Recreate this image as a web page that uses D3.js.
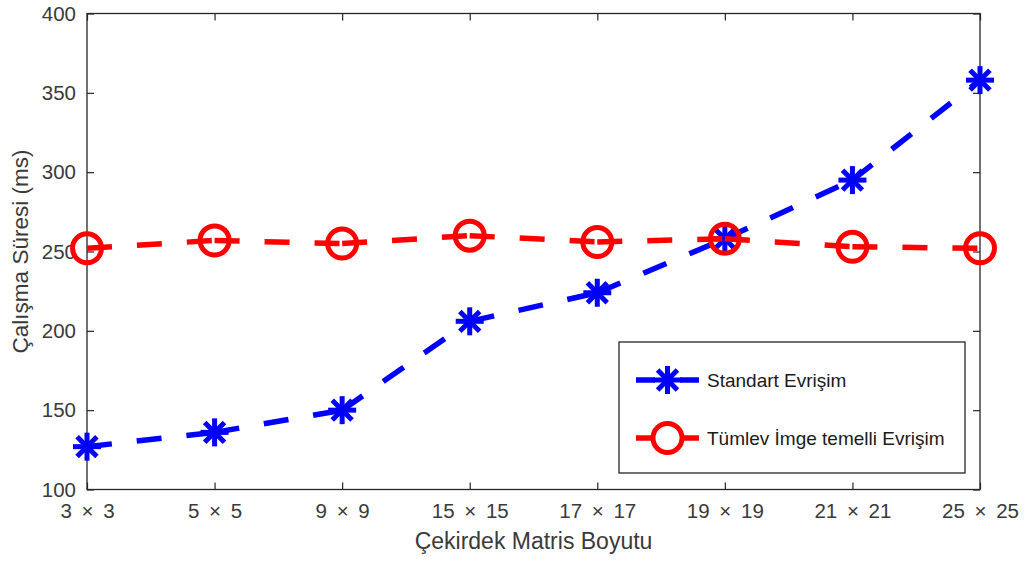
<!DOCTYPE html>
<html>
<head>
<meta charset="utf-8">
<script src="https://cdn.jsdelivr.net/npm/d3@7"></script>
<style>
  html, body { margin: 0; padding: 0; background: #fff; }
  svg { display: block; font-family: "Liberation Sans", Arial, Helvetica, sans-serif; }
</style>
</head>
<body>
<svg id="chart" width="1027" height="561"></svg>
<script>
// ---- data ----
const categories = ["3 × 3", "5 × 5", "9 × 9", "15 × 15", "17 × 17", "19 × 19", "21 × 21", "25 × 25"];
const standartValues = [127, 136, 150, 206, 224, 258, 295, 358];
const tumlevValues = [252, 257, 255, 260, 256, 258, 253, 252];
const yTicks = [100, 150, 200, 250, 300, 350, 400];
const seriesNames = ["Standart Evrişim", "Tümlev İmge temelli Evrişim"];
const xLabel = "Çekirdek Matris Boyutu";
const yLabel = "Çalışma Süresi (ms)";

// ---- layout ----
const W = 1027, H = 561;
const L = 87, R = 980, T = 13.5, B = 489.5;
const axisColor = "#262626";
const textColor = "#3a3a3a";

const svg = d3.select("#chart");

const x = d3.scalePoint().domain(categories).range([L, R]).padding(0);
const y = d3.scaleLinear().domain([100, 400]).range([B, T]);

// background
svg.append("rect").attr("x", 0).attr("y", 0).attr("width", W).attr("height", H).attr("fill", "#fff");

// axes
const tickLen = 7;
const gx = svg.append("g").attr("transform", `translate(0,${B})`)
  .call(d3.axisBottom(x).tickSizeInner(-tickLen).tickSizeOuter(0).tickPadding(14));
const gxTop = svg.append("g").attr("transform", `translate(0,${T})`)
  .call(d3.axisTop(x).tickSizeInner(-tickLen).tickSizeOuter(0).tickFormat(""));
const gy = svg.append("g").attr("transform", `translate(${L},0)`)
  .call(d3.axisLeft(y).tickValues(yTicks).tickSizeInner(-tickLen).tickSizeOuter(0).tickPadding(11));
const gyR = svg.append("g").attr("transform", `translate(${R},0)`)
  .call(d3.axisRight(y).tickValues(yTicks).tickSizeInner(-tickLen).tickSizeOuter(0).tickFormat(""));

[gx, gxTop, gy, gyR].forEach(g => {
  g.select(".domain").remove();
  g.selectAll(".tick line").attr("stroke", axisColor).attr("stroke-width", 1.2);
  g.selectAll(".tick text").attr("fill", textColor).attr("font-size", 20.5)
    .attr("font-family", '"Liberation Sans", Arial, sans-serif');
});
gx.selectAll(".tick text").attr("word-spacing", "4px");

// box
svg.append("rect").attr("x", L).attr("y", T).attr("width", R - L).attr("height", B - T)
  .attr("fill", "none").attr("stroke", axisColor).attr("stroke-width", 1.3);

// axis labels
svg.append("text").attr("x", (L + R) / 2).attr("y", 549).attr("text-anchor", "middle")
  .attr("font-size", 23).attr("fill", textColor).text(xLabel);
svg.append("text").attr("transform", `translate(28,${(T + B) / 2}) rotate(-90)`).attr("text-anchor", "middle")
  .attr("font-size", 22.5).attr("fill", textColor).text(yLabel);

// marker drawers
function star(g, cx, cy, r, color) {
  const angles = [0, 45, 90, 135];
  angles.forEach(a => {
    const rad = a * Math.PI / 180;
    g.append("line")
      .attr("x1", cx - r * Math.cos(rad)).attr("y1", cy - r * Math.sin(rad))
      .attr("x2", cx + r * Math.cos(rad)).attr("y2", cy + r * Math.sin(rad))
      .attr("stroke", color).attr("stroke-width", 5).attr("stroke-linecap", "butt");
  });
}
function circ(g, cx, cy, r, color) {
  g.append("circle").attr("cx", cx).attr("cy", cy).attr("r", r)
    .attr("fill", "none").attr("stroke", color).attr("stroke-width", 5);
}

const series = [
  { name: seriesNames[0], values: standartValues, color: "#0000ff", marker: star },
  { name: seriesNames[1], values: tumlevValues, color: "#ff0000", marker: circ }
];

const lineGen = d3.line().x(d => x(d.c)).y(d => y(d.v));

series.forEach(s => {
  const g = svg.append("g");
  const pts = categories.map((c, i) => ({ c, v: s.values[i] }));
  // dashed segments (dash pattern restarts at every vertex)
  for (let i = 0; i < pts.length - 1; i++) {
    g.append("path").attr("d", lineGen([pts[i], pts[i + 1]]))
      .attr("fill", "none").attr("stroke", s.color).attr("stroke-width", 5.5)
      .attr("stroke-dasharray", "25,25");
  }
  pts.forEach(p => s.marker(g, x(p.c), y(p.v), s.marker === star ? 14 : 14.5, s.color));
});

// legend
const lg = svg.append("g");
lg.append("rect").attr("x", 619).attr("y", 342).attr("width", 346).attr("height", 131)
  .attr("fill", "#fff").attr("stroke", axisColor).attr("stroke-width", 1.3);
const legendY = [380, 438];
series.forEach((s, i) => {
  const ly = legendY[i];
  lg.append("line").attr("x1", 636).attr("x2", 699).attr("y1", ly).attr("y2", ly)
    .attr("stroke", s.color).attr("stroke-width", 5.5).attr("stroke-dasharray", "19,25");
  s.marker(lg, 667.5, ly, s.marker === star ? 14 : 14.5, s.color);
  lg.append("text").attr("x", 707).attr("y", ly).attr("dy", "0.35em")
    .attr("font-size", 19).attr("fill", "#1a1a1a").text(s.name);
});
</script>
</body>
</html>
